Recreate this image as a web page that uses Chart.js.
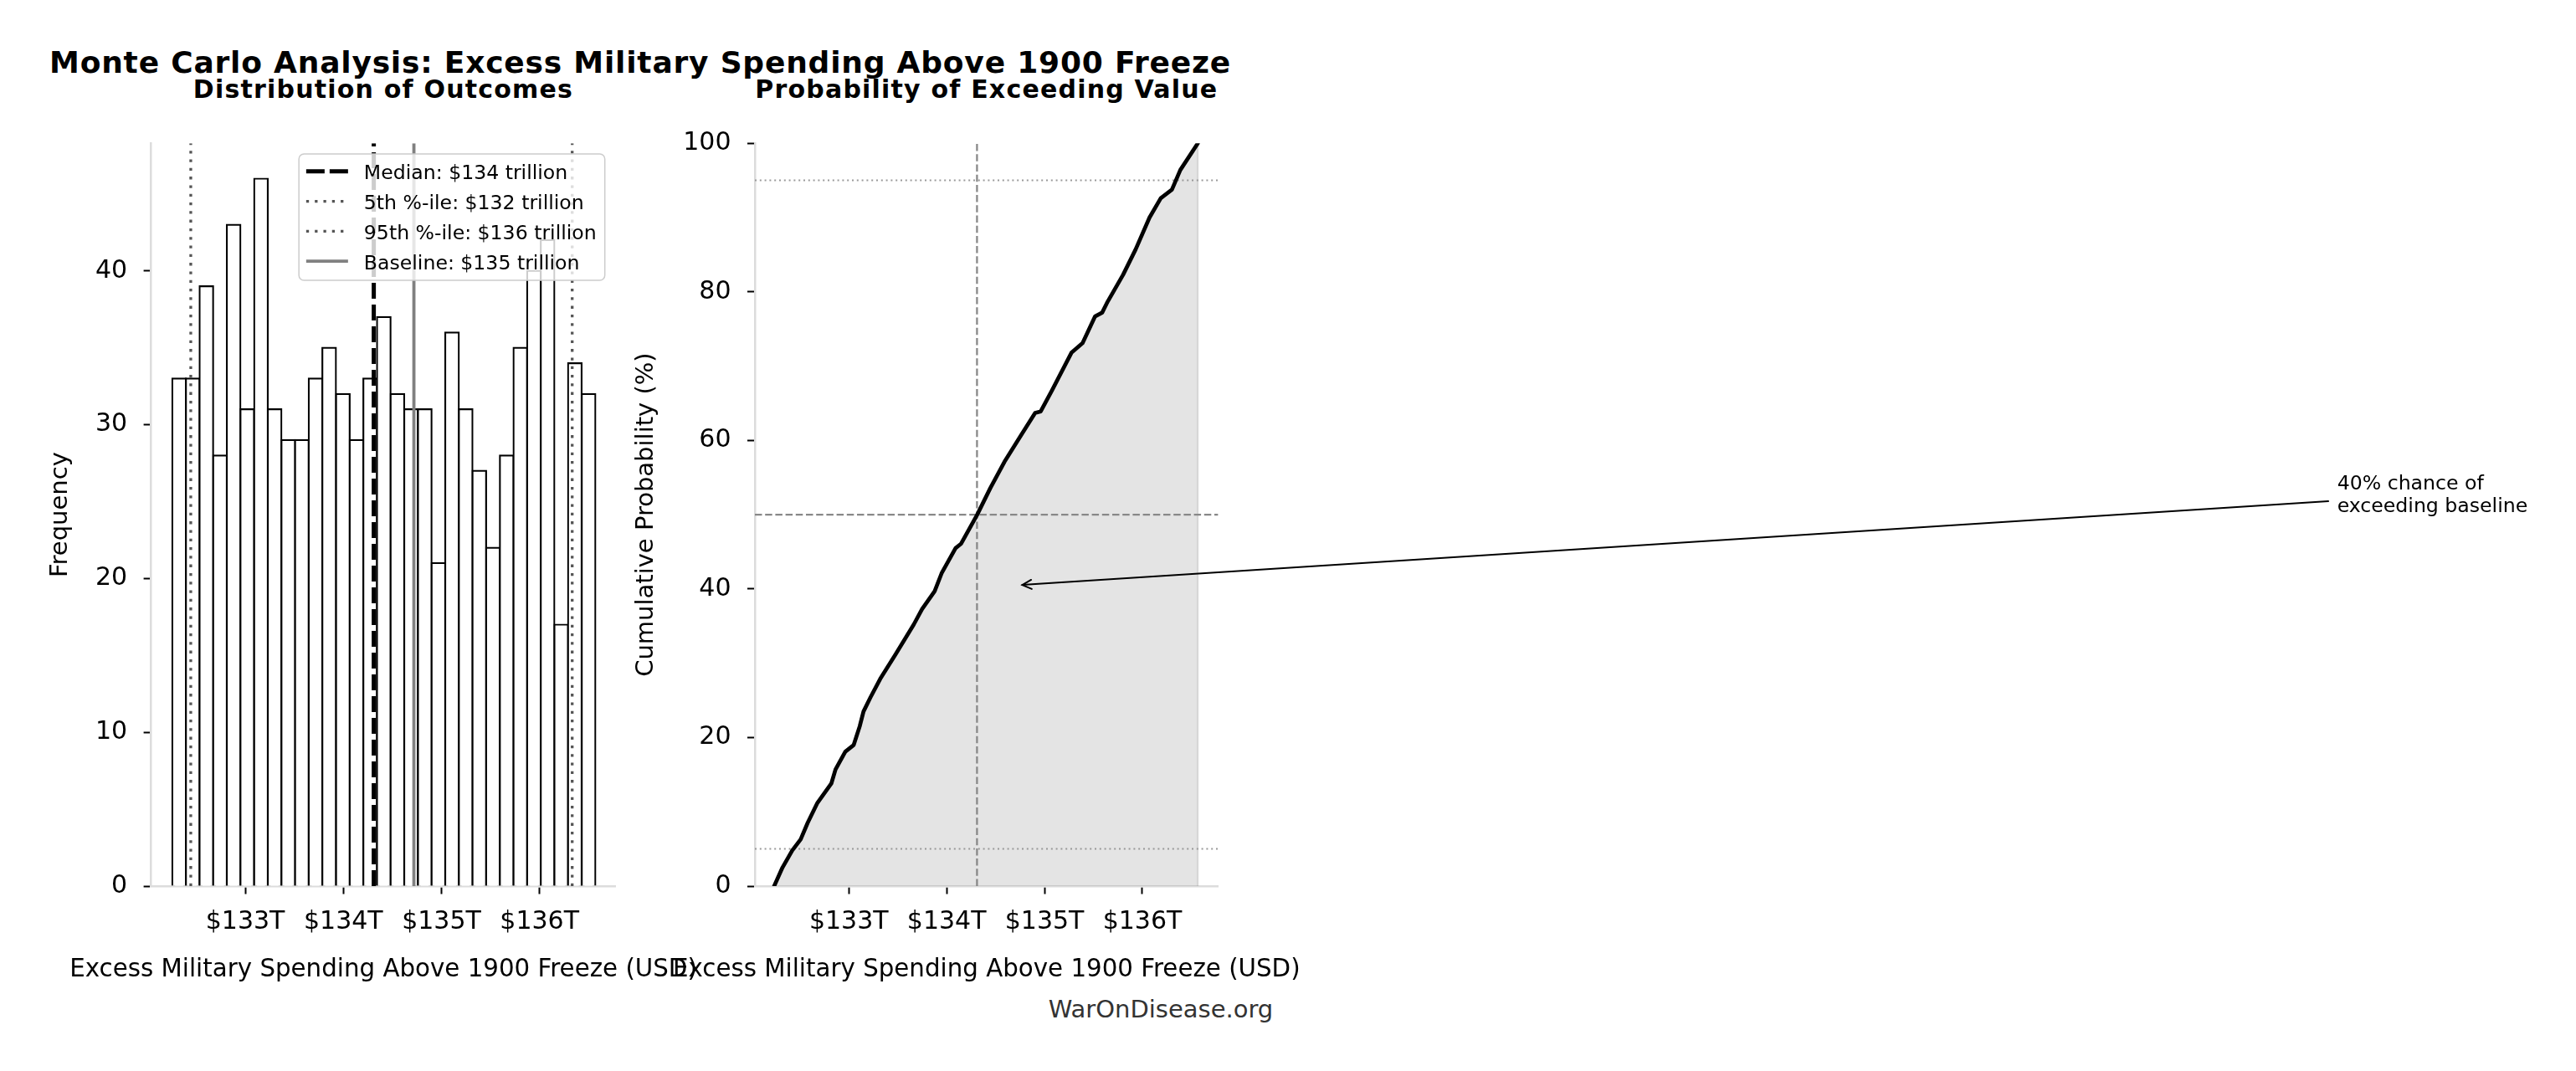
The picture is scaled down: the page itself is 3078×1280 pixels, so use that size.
<!DOCTYPE html>
<html><head><meta charset="utf-8">
<script src="https://cdn.jsdelivr.net/npm/chart.js@4.4.1/dist/chart.umd.min.js"></script>
<style>
html,body{margin:0;padding:0;background:#fff;width:3078px;height:1280px;overflow:hidden;font-family:'DejaVu Sans';}
body{position:relative;}
canvas{position:absolute;top:0;}
#c1{left:0px;}
#c2{left:740px;}
.t{position:absolute;white-space:nowrap;line-height:1;transform:translateX(-50%);color:#000;}
</style></head><body>
<div class="t" style="left:765px;top:56.8px;font-size:36px;font-weight:bold;letter-spacing:0.8px;">Monte Carlo Analysis: Excess Military Spending Above 1900 Freeze</div>
<div class="t" style="left:458px;top:91.9px;font-size:30px;font-weight:bold;letter-spacing:1.2px;">Distribution of Outcomes</div>
<div class="t" style="left:1178.8px;top:91.9px;font-size:30px;font-weight:bold;letter-spacing:1.2px;">Probability of Exceeding Value</div>
<div class="t" style="left:1387px;top:1191.6px;font-size:29px;color:#333;">WarOnDisease.org</div>
<canvas id="c1" width="860" height="1280" style="width:860px;height:1280px"></canvas>
<canvas id="c2" width="2338" height="1280" style="width:2338px;height:1280px"></canvas>
<script>
// ---- data ----
const binCenters = [132.325,132.464,132.603,132.742,132.881,133.020,133.160,133.299,133.438,133.577,133.716,133.855,133.995,134.134,134.273,134.412,134.551,134.690,134.830,134.969,135.108,135.247,135.386,135.525,135.665,135.804,135.943,136.082,136.221,136.360,136.500];
const binCounts = [33,33,39,28,43,31,46,31,29,29,33,35,32,29,33,37,32,31,31,21,36,31,27,22,28,35,40,42,17,34,32];
const cdfX = [132.237,132.322,132.422,132.508,132.579,132.679,132.821,132.864,132.964,133.050,133.111,133.150,133.221,133.321,133.478,133.663,133.749,133.877,133.948,134.091,134.148,134.312,134.447,134.590,134.761,134.904,134.961,135.075,135.275,135.389,135.517,135.589,135.646,135.803,135.931,136.073,136.188,136.302,136.388,136.567];
const cdfY = [0,2.5,4.8,6.3,8.5,11.2,13.8,15.7,18.1,19.0,21.5,23.5,25.4,27.9,31.2,35.2,37.3,39.7,42.1,45.5,46.1,50.0,53.6,57.1,60.7,63.7,63.9,66.7,71.8,73.1,76.7,77.2,78.7,82.3,85.7,90.0,92.6,93.75,96.4,100];
const xTicks = [133,134,135,136];
const histYTicks = [0,10,20,30,40];
const probYTicks = [0,20,40,60,80,100];
const refNames = ['Median: $134 trillion','5th %-ile: $132 trillion','95th %-ile: $136 trillion','Baseline: $135 trillion'];
const refValues = [134.31,132.444,136.333,134.719];
const probLevels = [5,50,95];
const xAxisTitle = 'Excess Military Spending Above 1900 Freeze (USD)';
const annotationLines = ['40% chance of','exceeding baseline'];
const annotationTarget = [134.73,40.5];
const annotationFrom = [148.12,51.8];

const X_MIN = 132.04, X_MAX = 136.775, HIST_YMAX = 48.3;
const FONT = "'DejaVu Sans'";
Chart.defaults.font.family = FONT;
Chart.defaults.color = '#000';

const refStyles = [
  {color:'#000', width:5, dash:[19,7]},
  {color:'#555', width:3.3, dash:[3.3,7]},
  {color:'#555', width:3.3, dash:[3.3,7]},
  {color:'#808080', width:3.8, dash:[]}
];

function xScale(){
  return {
    type:'linear', min:X_MIN, max:X_MAX, offset:false,
    grid:{display:true, drawOnChartArea:false, drawTicks:true, tickLength:9.5, tickWidth:2, tickColor:'#000', offset:false},
    border:{display:true, color:'#dcdcdc', width:2.5},
    afterBuildTicks:(s)=>{ s.ticks = xTicks.map(v=>({value:v})); },
    afterFit:(s)=>{ s.height = 116.4; },
    ticks:{font:{size:30}, color:'#000', padding:15.3, maxRotation:0, autoSkip:false, callback:(v)=>'$'+v+'T'},
    title:{display:false},
    z:1
  };
}
function yScale(ticks, max, width, title){
  return {
    type:'linear', min:0, max:max,
    grid:{display:true, drawOnChartArea:false, drawTicks:true, tickLength:9, tickWidth:2, tickColor:'#000'},
    border:{display:true, color:'#dcdcdc', width:2.5},
    afterBuildTicks:(s)=>{ s.ticks = ticks.map(v=>({value:v})); },
    afterFit:(s)=>{ s.width = width; },
    ticks:{font:{size:30}, color:'#000', padding:19.5},
    title:{display:true, text:title, font:{size:29}, color:'#000', padding:{top:5,bottom:0}},
    z:1
  };
}

// x-axis title drawn without width squeezing
const xTitlePlugin = {
  id:'xTitle',
  afterDraw(chart){
    const ctx = chart.ctx, ca = chart.chartArea;
    ctx.save();
    ctx.font = '29.3px ' + FONT; ctx.fillStyle = '#000';
    ctx.textAlign = 'center'; ctx.textBaseline = 'alphabetic';
    ctx.fillText(xAxisTitle, (ca.left+ca.right)/2, 1166.7);
    ctx.restore();
  }
};

// legend plugin
const legendPlugin = {
  id:'histLegend',
  afterDraw(chart){
    const ctx = chart.ctx, ca = chart.chartArea;
    ctx.save();
    ctx.font = '23.6px ' + FONT;
    let maxW = 0;
    refNames.forEach(t=>{ maxW = Math.max(maxW, ctx.measureText(t).width); });
    const w = 77.7 + maxW + 10;
    const right = ca.right - 12.8, top = ca.top + 12.8;
    const left = right - w;
    const step = 35.8, firstBase = top + 30.3;
    const h = 30.3 + step*(refNames.length-1) + 13.3;
    ctx.beginPath();
    ctx.roundRect(left, top, w, h, 6);
    ctx.fillStyle = 'rgba(255,255,255,0.8)';
    ctx.fill();
    ctx.lineWidth = 1.5; ctx.strokeStyle = '#cccccc';
    ctx.stroke();
    refNames.forEach((t,i)=>{
      const base = firstBase + step*i;
      const st = refStyles[i];
      ctx.beginPath();
      ctx.setLineDash(i===0?[22,6]:st.dash);
      ctx.lineDashOffset = 0;
      ctx.lineWidth = st.width; ctx.strokeStyle = st.color; ctx.lineCap='butt';
      ctx.moveTo(left+8.7, base-9.5); ctx.lineTo(left+58.7, base-9.5);
      ctx.stroke();
      ctx.setLineDash([]);
      ctx.fillStyle = '#000'; ctx.textBaseline = 'alphabetic'; ctx.textAlign='left';
      ctx.fillText(t, left+77.7, base);
    });
    ctx.restore();
  }
};

const c1 = new Chart(document.getElementById('c1'), {
  type:'bar',
  data:{
    datasets:[
      {type:'bar', data:binCenters.map((x,i)=>({x:x, y:binCounts[i]})), backgroundColor:'#fff', borderColor:'#000', borderWidth:2.2, inflateAmount:1.1, barPercentage:1, categoryPercentage:1, order:5},
      ...refValues.map((v,i)=>({type:'line', data:[{x:v,y:0},{x:v,y:HIST_YMAX}], borderColor:refStyles[i].color, borderWidth:refStyles[i].width, borderDash:refStyles[i].dash, borderCapStyle:'butt', pointRadius:0, fill:false, order:1}))
    ]
  },
  options:{
    responsive:false, devicePixelRatio:1, animation:false,
    layout:{padding:{left:50, right:860-735.5, top:171.2, bottom:104.6}},
    plugins:{legend:{display:false}, tooltip:{enabled:false}, title:{display:false}},
    scales:{ x:xScale(), y:yScale(histYTicks, HIST_YMAX, 130.6, 'Frequency') }
  },
  plugins:[legendPlugin, xTitlePlugin]
});

// annotation plugin
const annoPlugin = {
  id:'anno',
  afterDraw(chart){
    const ctx = chart.ctx, xs = chart.scales.x, ys = chart.scales.y;
    const tx = xs.getPixelForValue(annotationTarget[0]), ty = ys.getPixelForValue(annotationTarget[1]);
    const sx = xs.getPixelForValue(annotationFrom[0]), sy = ys.getPixelForValue(annotationFrom[1]);
    const dx = sx-tx, dy = sy-ty, L = Math.hypot(dx,dy), ux = dx/L, uy = dy/L;
    const px = tx + ux*5, py = ty + uy*5; // shrink
    ctx.save();
    ctx.strokeStyle = '#000'; ctx.lineWidth = 2; ctx.lineCap='round';
    ctx.beginPath(); ctx.moveTo(sx, sy); ctx.lineTo(px, py); ctx.stroke();
    const hl = 11, hw = 5.5;
    ctx.beginPath();
    ctx.moveTo(px + ux*hl - uy*hw, py + uy*hl + ux*hw);
    ctx.lineTo(px, py);
    ctx.lineTo(px + ux*hl + uy*hw, py + uy*hl - ux*hw);
    ctx.stroke();
    ctx.font = '23.6px ' + FONT; ctx.fillStyle='#000'; ctx.textAlign='left'; ctx.textBaseline='alphabetic';
    ctx.fillText(annotationLines[0], sx+10.7, sy-14);
    ctx.fillText(annotationLines[1], sx+10.7, sy+13);
    ctx.restore();
  }
};

const lastX = cdfX[cdfX.length-1];
const c2 = new Chart(document.getElementById('c2'), {
  type:'line',
  data:{
    datasets:[
      {data:cdfX.map((x,i)=>({x:x, y:cdfY[i]})), borderColor:'#000', borderWidth:4.7, backgroundColor:'rgba(128,128,128,0.21)', fill:'origin', pointRadius:0, tension:0, borderJoinStyle:'round', borderCapStyle:'round', order:0},
      {data:[{x:lastX,y:0},{x:lastX,y:100}], borderColor:'rgba(128,128,128,0.25)', borderWidth:2, pointRadius:0, fill:false, order:6},
      {data:[{x:X_MIN,y:probLevels[0]},{x:X_MAX,y:probLevels[0]}], borderColor:'#999', borderWidth:2, borderDash:[2,3.8], pointRadius:0, fill:false, order:2},
      {data:[{x:X_MIN,y:probLevels[1]},{x:X_MAX,y:probLevels[1]}], borderColor:'#888', borderWidth:2.3, borderDash:[8.5,3.7], pointRadius:0, fill:false, order:2},
      {data:[{x:X_MIN,y:probLevels[2]},{x:X_MAX,y:probLevels[2]}], borderColor:'#999', borderWidth:2, borderDash:[2,3.8], pointRadius:0, fill:false, order:2},
      {data:[{x:refValues[0],y:0},{x:refValues[0],y:100}], borderColor:'#888', borderWidth:2.3, borderDash:[8.5,3.7], pointRadius:0, fill:false, order:2}
    ]
  },
  options:{
    responsive:false, devicePixelRatio:1, animation:false,
    layout:{padding:{left:10, right:2338-715.6, top:171.2, bottom:104.6}},
    plugins:{legend:{display:false}, tooltip:{enabled:false}, title:{display:false}, filler:{drawTime:'beforeDatasetsDraw'}},
    scales:{ x:xScale(), y:yScale(probYTicks, 100, 152, 'Cumulative Probability (%)') }
  },
  plugins:[annoPlugin, xTitlePlugin]
});
</script>
</body></html>
